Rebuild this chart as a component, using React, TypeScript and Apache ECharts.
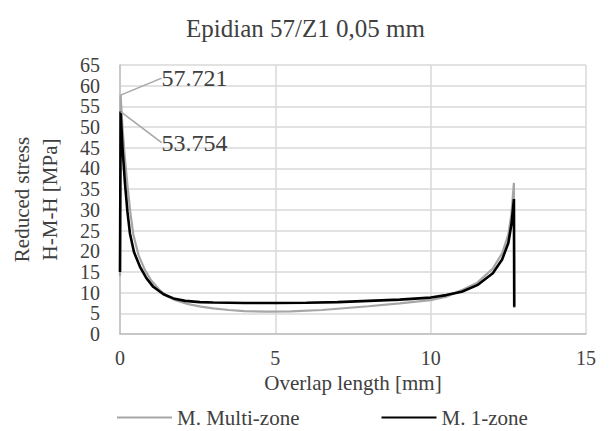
import React, { useEffect, useRef } from "react";
import * as echarts from "echarts";

const titleText = "Epidian 57/Z1 0,05 mm";
const xAxisName = "Overlap length [mm]";
const yAxisName = "Reduced stress\nH-M-H [MPa]";
const seriesNames = ["M. Multi-zone", "M. 1-zone"];

const multiX = [0, 0.02, 0.08, 0.15, 0.24, 0.33, 0.43, 0.6, 0.8, 1.0, 1.25, 1.5, 1.8, 2.2, 2.6, 3.0, 3.5, 4.0, 4.7, 5.5, 6.5, 7.0, 8.0, 9.0, 10.0, 10.5, 11.0, 11.5, 12.0, 12.3, 12.5, 12.6, 12.68, 12.69];
const multiY = [14, 57.721, 50, 43, 36, 29.5, 24, 19, 15.5, 13, 10.8, 9.2, 8.1, 7.2, 6.6, 6.2, 5.8, 5.55, 5.4, 5.45, 5.8, 6.1, 6.7, 7.4, 8.2, 9.0, 10.6, 12.4, 15.8, 19.5, 24, 29, 36.5, 6.3];

const oneX = [0, 0.02, 0.08, 0.16, 0.24, 0.32, 0.45, 0.64, 0.85, 1.07, 1.4, 1.72, 2.1, 2.57, 3.0, 4.0, 5.0, 6.0, 7.0, 8.0, 9.0, 10.0, 10.5, 11.0, 11.5, 12.0, 12.3, 12.5, 12.6, 12.68, 12.69];
const oneY = [15, 53.754, 45, 36.4, 29.5, 24.3, 19.8, 16.3, 13.5, 11.4, 9.6, 8.6, 8.0, 7.7, 7.6, 7.5, 7.5, 7.55, 7.7, 8.0, 8.3, 8.8, 9.4, 10.2, 11.8, 14.7, 18, 22, 26.5, 32.6, 6.6];

const peakLabels = ["57.721", "53.754"];
const labelOffsets = [
  { dx: 27, dy: -17 },
  { dx: 27, dy: 31 },
];

const FONT = "Liberation Serif";
const TEXT = "#404040";

function buildData(xs: number[], ys: number[], labelIdx: number, labelText: string) {
  return xs.map((x, i) => {
    if (i === labelIdx) {
      return {
        value: [x, ys[i]],
        label: {
          show: true,
          position: "right",
          formatter: labelText,
          fontFamily: FONT,
          fontWeight: "normal",
          fontSize: 24,
          color: TEXT,
          padding: [0, 0, 0, 9],
        },
        labelLine: { show: true, length2: 14, lineStyle: { color: "#a6a6a6", width: 1.5 } },
      };
    }
    return { value: [x, ys[i]] };
  });
}

function peakIndex(ys: number[]) {
  let m = 0;
  ys.forEach((v, i) => {
    if (v > ys[m]) m = i;
  });
  return m;
}

export default function App() {
  const ref = useRef<HTMLDivElement>(null);
  useEffect(() => {
    if (!ref.current) return;
    const chart = echarts.init(ref.current, undefined, { renderer: "svg" });
    const mPeak = peakIndex(multiY);
    const oPeak = peakIndex(oneY);
    chart.setOption({
      animation: false,
      backgroundColor: "#ffffff",
      textStyle: { fontFamily: FONT, color: TEXT },
      title: {
        text: titleText,
        left: "center",
        top: 11,
        textStyle: { fontFamily: FONT, fontSize: 25, fontWeight: "normal", color: TEXT },
      },
      grid: { left: 120, right: 25, top: 65, bottom: 97, containLabel: false, outerBoundsMode: "none" },
      legend: {
        left: 117,
        top: 407,
        padding: 0,
        itemGap: 82,
        itemWidth: 55,
        itemHeight: 2,
        icon: "rect",
        textStyle: { fontFamily: FONT, fontSize: 21, fontWeight: "normal", color: TEXT },
        data: seriesNames,
      },
      xAxis: {
        type: "value",
        min: 0,
        max: 15,
        interval: 5,
        name: xAxisName,
        nameLocation: "middle",
        nameGap: 38,
        nameTextStyle: { fontFamily: FONT, fontSize: 21, fontWeight: "normal", color: TEXT },
        axisLine: { show: true, lineStyle: { color: "#bfbfbf", width: 1.5 } },
        axisTick: { show: false },
        axisLabel: { fontFamily: FONT, fontSize: 20, fontWeight: "normal", color: TEXT, margin: 14 },
        splitLine: { show: true, lineStyle: { color: "#d9d9d9", width: 1.5 } },
      },
      yAxis: {
        type: "value",
        min: 0,
        max: 65,
        interval: 5,
        name: yAxisName,
        nameLocation: "middle",
        nameGap: 56,
        nameTextStyle: { fontFamily: FONT, fontSize: 21, fontWeight: "normal", color: TEXT, lineHeight: 28 },
        axisLine: { show: true, lineStyle: { color: "#bfbfbf", width: 1.5 } },
        axisTick: { show: false },
        axisLabel: { fontFamily: FONT, fontSize: 20, lineHeight: 20, fontWeight: "normal", color: TEXT, margin: 20, showMinLabel: true, showMaxLabel: true },
        splitLine: { show: true, lineStyle: { color: "#d9d9d9", width: 1.5 } },
      },
      series: [
        {
          name: seriesNames[0],
          type: "line",
          color: "#a6a6a6",
          showSymbol: true,
          symbol: "circle",
          symbolSize: 0,
          lineStyle: { color: "#a6a6a6", width: 2.2 },
          data: buildData(multiX, multiY, mPeak, peakLabels[0]),
          labelLayout: (p: any) => (p.dataIndex === mPeak ? labelOffsets[0] : {}),
          z: 2,
        },
        {
          name: seriesNames[1],
          type: "line",
          color: "#000000",
          showSymbol: true,
          symbol: "circle",
          symbolSize: 0,
          lineStyle: { color: "#000000", width: 2.6 },
          data: buildData(oneX, oneY, oPeak, peakLabels[1]),
          labelLayout: (p: any) => (p.dataIndex === oPeak ? labelOffsets[1] : {}),
          z: 3,
        },
      ],
    });
    return () => chart.dispose();
  }, []);
  return <div ref={ref} style={{ width: 611, height: 431, position: "absolute", left: 0, top: 0 }} />;
}
